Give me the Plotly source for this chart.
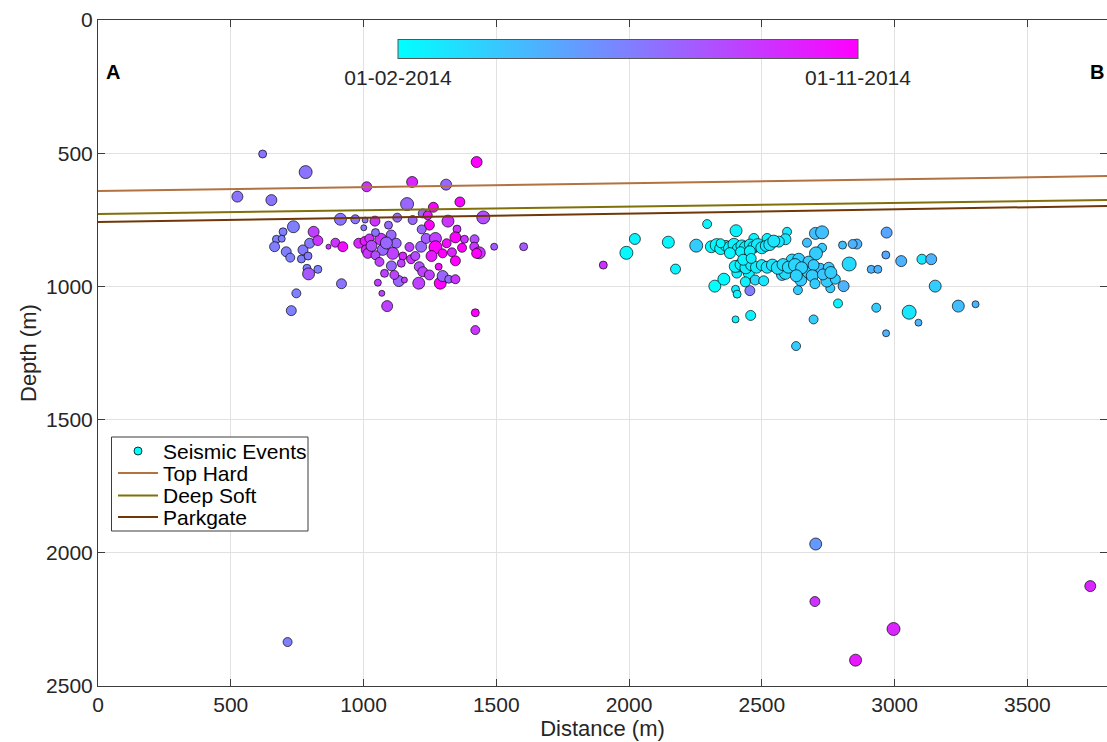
import plotly.graph_objects as go

# Seismic events: distance (m), depth (m), time fraction (0 = 01-02-2014, 1 = 01-11-2014), marker size
ev_dist = [
    620, 782, 525, 653, 1012, 1183, 1311, 1426, 1164, 1263, 1363, 1451, 913, 969, 736, 697, 672, 692, 665, 709,
    724, 766, 772, 797, 791, 812, 828, 868, 894, 922, 787, 793, 828, 917, 747, 728, 982, 1004, 1010, 1001,
    1223, 1242, 1248, 1219, 1127, 1185, 1043, 1318, 1352, 1065, 1022, 1104, 1123, 1045, 1110, 1072, 1148, 1142, 1179, 1016,
    1045, 1217, 1236, 1271, 1271, 1298, 1313, 1346, 1371, 1333, 1346, 1380, 1418, 1417, 1436, 1426, 1492, 1283, 1210, 1223,
    1248, 1208, 1289, 1298, 1321, 1346, 1133, 1154, 1079, 1054, 1069, 1089, 1421, 1421, 1006, 1603, 1903, 714,
    1030, 1086, 1060, 1105, 1173, 1256, 1195, 1116, 1094,
    2294, 2403, 2022, 1990, 2148, 2253, 2175, 2323, 2357, 2401, 2407, 2455, 2401, 2458, 2629, 2695, 2787, 2931, 2968, 3055,
    3090, 3240, 3305, 3153, 3025, 3103, 3138, 2967, 2970, 2912, 2937, 2829, 2804, 2858, 2842, 2702, 2727, 2670, 2727, 2704,
    2595, 2589, 2564, 2636, 2758, 2808, 2745, 2777, 2647, 2676, 2720, 2752, 2614, 2589, 2614, 2639, 2676, 2695, 2576, 2470,
    2520, 2451, 2406, 2589, 2475, 2507, 2438, 2413,
    2310, 2330, 2345, 2365, 2380, 2395, 2410, 2425, 2440, 2455, 2470, 2485, 2500, 2515, 2530, 2345, 2420, 2380, 2455, 2545,
    2400, 2420, 2440, 2460, 2480, 2500, 2520, 2540, 2560, 2580, 2600, 2625, 2650, 2430, 2460,
    2690, 2730, 2760, 2700, 2630,
    2703, 2700, 2996, 2853, 3737,
]
ev_depth = [
    503, 571, 663, 676, 626, 608, 618, 533, 691, 703, 683, 741, 748, 748, 776, 795, 823, 821, 851, 870,
    892, 897, 863, 838, 886, 795, 828, 851, 836, 851, 932, 953, 936, 990, 1026, 1091, 838, 830, 863, 780,
    726, 733, 770, 786, 742, 751, 755, 755, 785, 823, 820, 807, 838, 798, 876, 863, 886, 913, 898, 876,
    883, 851, 820, 820, 853, 876, 838, 816, 855, 872, 904, 823, 823, 851, 874, 876, 851, 926, 926, 945,
    957, 988, 988, 961, 973, 973, 980, 976, 951, 986, 1026, 1074, 1099, 1164, 751, 851, 920, 2335,
    848, 837, 908, 923, 852, 886, 886, 957, 770,
    766, 791, 822, 874, 834, 847, 935, 999, 973, 1011, 1029, 1016, 1124, 1109, 1224, 1124, 1064, 1080, 1176, 1097,
    1136, 1074, 1067, 999, 905, 898, 898, 882, 798, 936, 936, 916, 845, 841, 841, 801, 797, 836, 855, 876,
    795, 823, 832, 1014, 1007, 999, 980, 973, 976, 945, 932, 930, 939, 926, 901, 898, 907, 920, 957, 820,
    820, 951, 950, 951, 976, 979, 983, 923,
    851, 845, 858, 848, 855, 842, 858, 848, 855, 843, 852, 845, 855, 848, 843, 838, 870, 875, 868, 830,
    925, 918, 930, 920, 928, 920, 928, 920, 930, 918, 928, 920, 930, 900, 895,
    960, 955, 948, 990, 960,
    1967, 2183, 2286, 2403, 2125,
]
ev_time = [
    0.55, 0.55, 0.55, 0.55, 0.8, 0.85, 0.6, 1.0, 0.6, 0.98, 0.97, 0.7, 0.55, 0.55, 0.5, 0.5, 0.5, 0.5, 0.5, 0.5,
    0.5, 0.5, 0.52, 0.52, 0.52, 0.75, 0.8, 0.8, 0.8, 0.95, 0.5, 0.65, 0.5, 0.55, 0.5, 0.5, 0.85, 0.9, 0.85, 0.55,
    0.6, 0.9, 1.0, 0.6, 0.6, 0.6, 0.8, 0.8, 0.8, 0.8, 0.8, 0.6, 0.6, 0.55, 0.75, 0.6, 0.85, 0.75, 0.8, 0.8,
    0.7, 0.6, 0.65, 0.75, 1.0, 1.0, 0.95, 1.0, 1.0, 0.85, 1.0, 0.8, 0.7, 0.8, 0.8, 1.0, 0.65, 0.95, 0.7, 0.75,
    0.75, 0.75, 1.0, 0.6, 0.6, 0.8, 0.6, 0.75, 0.75, 0.75, 0.75, 0.75, 1.0, 0.8, 0.55, 0.65, 0.8, 0.5,
    0.7, 0.6, 0.75, 0.6, 0.75, 0.9, 0.7, 0.75, 0.6,
    0.05, 0.05, 0.05, 0.02, 0.03, 0.2, 0.05, 0.0, 0.02, 0.05, 0.05, 0.5, 0.05, 0.05, 0.2, 0.2, 0.05, 0.2, 0.3, 0.1,
    0.3, 0.25, 0.3, 0.2, 0.3, 0.1, 0.3, 0.35, 0.35, 0.3, 0.3, 0.15, 0.25, 0.3, 0.3, 0.25, 0.25, 0.25, 0.2, 0.2,
    0.1, 0.1, 0.1, 0.2, 0.2, 0.3, 0.2, 0.2, 0.2, 0.2, 0.25, 0.2, 0.15, 0.15, 0.15, 0.2, 0.2, 0.2, 0.15, 0.05,
    0.05, 0.05, 0.05, 0.15, 0.15, 0.1, 0.05, 0.05,
    0.02, 0.03, 0.02, 0.04, 0.03, 0.05, 0.04, 0.06, 0.05, 0.06, 0.07, 0.08, 0.07, 0.09, 0.1, 0.03, 0.05, 0.04, 0.05, 0.1,
    0.05, 0.05, 0.06, 0.07, 0.08, 0.08, 0.1, 0.1, 0.12, 0.13, 0.14, 0.16, 0.18, 0.05, 0.06,
    0.2, 0.22, 0.2, 0.2, 0.17,
    0.4, 0.8, 0.85, 0.9, 0.85,
]
ev_size = [
    8, 13, 11, 11, 10, 11, 11, 11, 13, 10, 10, 13, 12, 9, 12, 8, 8, 7, 10, 10,
    9, 8, 10, 10, 8, 11, 10, 5, 9, 10, 8, 12, 8, 10, 9, 10, 10, 9, 10, 6,
    9, 9, 10, 9, 9, 9, 10, 12, 8, 12, 9, 10, 10, 8, 12, 11, 8, 8, 9, 10,
    9, 11, 10, 12, 13, 9, 9, 11, 9, 9, 10, 8, 9, 9, 12, 10, 7, 7, 10, 10,
    10, 12, 12, 11, 8, 9, 11, 6, 8, 7, 6, 11, 8, 9, 6, 8, 8, 9,
    11, 12, 9, 10, 9, 11, 9, 9, 8,
    9, 12, 11, 13, 12, 13, 10, 12, 12, 8, 8, 10, 7, 10, 9, 9, 9, 9, 7, 14,
    7, 12, 7, 12, 11, 10, 11, 8, 11, 8, 8, 14, 8, 10, 9, 12, 13, 9, 9, 13,
    9, 11, 11, 9, 9, 11, 12, 10, 12, 13, 10, 11, 12, 13, 12, 12, 11, 11, 11, 10,
    10, 11, 10, 12, 10, 10, 10, 12,
    12, 13, 12, 11, 13, 12, 11, 12, 13, 11, 12, 13, 12, 11, 12, 9, 10, 11, 11, 12,
    12, 11, 12, 11, 12, 11, 12, 12, 13, 12, 12, 13, 12, 11, 10,
    12, 11, 12, 10, 12,
    12, 10, 13, 12, 11,
]

# Horizons: depth at both ends of the section
horizon_x = [0, 3800]
top_hard = [642, 586]
deep_soft = [728, 676]
parkgate = [758, 698]

horizon_names = ["Top Hard", "Deep Soft", "Parkgate"]
horizon_colors = ["rgb(178,114,66)", "rgb(128,112,10)", "rgb(112,56,8)"]
date_labels = ["01-02-2014", "01-11-2014"]

FONT = "Liberation Sans, Arial, Helvetica, sans-serif"
TXT = "#262626"

# plot-area geometry (pixels) for placing non-data decorations
L, T, W, H = 98, 20, 1009, 666


def px(xp):
    return (xp - L) / W


def py(yp):
    return 1 - (yp - T) / H


fig = go.Figure()

fig.add_trace(go.Scatter(
    x=ev_dist, y=ev_depth, mode="markers", showlegend=False, name="Seismic Events",
    marker=dict(
        size=ev_size, color=ev_time, cmin=0, cmax=1,
        colorscale=[[0, "rgb(0,255,255)"], [1, "rgb(255,0,255)"]],
        line=dict(color="rgba(0,0,0,0.85)", width=0.8), opacity=1,
        colorbar=dict(
            orientation="h", x=px(628), xanchor="center", y=py(61), yanchor="middle",
            lenmode="pixels", len=460, thicknessmode="pixels", thickness=19,
            xpad=0, ypad=0, outlinecolor="#555555", outlinewidth=1,
            tickvals=[0, 1], ticktext=date_labels, ticks="", ticklabelposition="outside bottom",
            tickfont=dict(family=FONT, size=21, color=TXT),
        ),
    ),
))

for name, yv, col in zip(horizon_names, [top_hard, deep_soft, parkgate], horizon_colors):
    fig.add_trace(go.Scatter(x=horizon_x, y=yv, mode="lines", name=name, showlegend=False,
                             line=dict(color=col, width=2)))

axis_common = dict(
    showgrid=True, gridcolor="rgb(225,225,225)", gridwidth=1,
    showline=True, linecolor="rgb(60,60,60)", linewidth=1, mirror="ticks",
    ticks="inside", ticklen=7, tickcolor="rgb(60,60,60)", zeroline=False,
    tickfont=dict(family=FONT, size=21, color=TXT),
)

# manual legend (box, samples, labels)
shapes = [dict(type="rect", xref="paper", yref="paper", x0=px(111.5), x1=px(308), y0=py(531), y1=py(437),
               fillcolor="white", line=dict(color="rgb(60,60,60)", width=1), layer="above")]
shapes.append(dict(type="circle", xref="paper", yref="paper", x0=px(134), x1=px(142), y0=py(455), y1=py(447),
                   fillcolor="rgb(0,255,255)", line=dict(color="black", width=0.8), layer="above"))
row_y = [451, 473, 495.5, 517]
for yy, col in zip(row_y[1:], horizon_colors):
    shapes.append(dict(type="line", xref="paper", yref="paper", x0=px(118), x1=px(158), y0=py(yy), y1=py(yy),
                       line=dict(color=col, width=2), layer="above"))

annotations = [
    dict(text=t, x=px(161), y=py(yy), xref="paper", yref="paper", xanchor="left", yanchor="middle",
         showarrow=False, font=dict(family=FONT, size=21, color="black"))
    for t, yy in zip(["Seismic Events"] + horizon_names, row_y)
]
annotations += [
    dict(text="<b>A</b>", x=px(113), y=py(72), xref="paper", yref="paper", xanchor="center", yanchor="middle",
         showarrow=False, font=dict(family=FONT, size=20, color="black")),
    dict(text="<b>B</b>", x=px(1097), y=py(72), xref="paper", yref="paper", xanchor="center", yanchor="middle",
         showarrow=False, font=dict(family=FONT, size=20, color="black")),
    dict(text="Depth (m)", x=px(28), y=py(353), xref="paper", yref="paper", xanchor="center", yanchor="middle",
         textangle=-90, showarrow=False, font=dict(family=FONT, size=22, color=TXT)),
]

fig.update_layout(
    width=1107, height=742,
    margin=dict(l=L, r=1107 - L - W, t=T, b=742 - T - H),
    paper_bgcolor="white", plot_bgcolor="white",
    showlegend=False,
    xaxis=dict(range=[0, 3800], tickvals=[0, 500, 1000, 1500, 2000, 2500, 3000, 3500],
               title=dict(text="Distance (m)", font=dict(family=FONT, size=22, color=TXT), standoff=0),
               **axis_common),
    yaxis=dict(range=[2500, 0], tickvals=[0, 500, 1000, 1500, 2000, 2500], **axis_common),
    shapes=shapes,
    annotations=annotations,
)

fig.write_html("out.html")
